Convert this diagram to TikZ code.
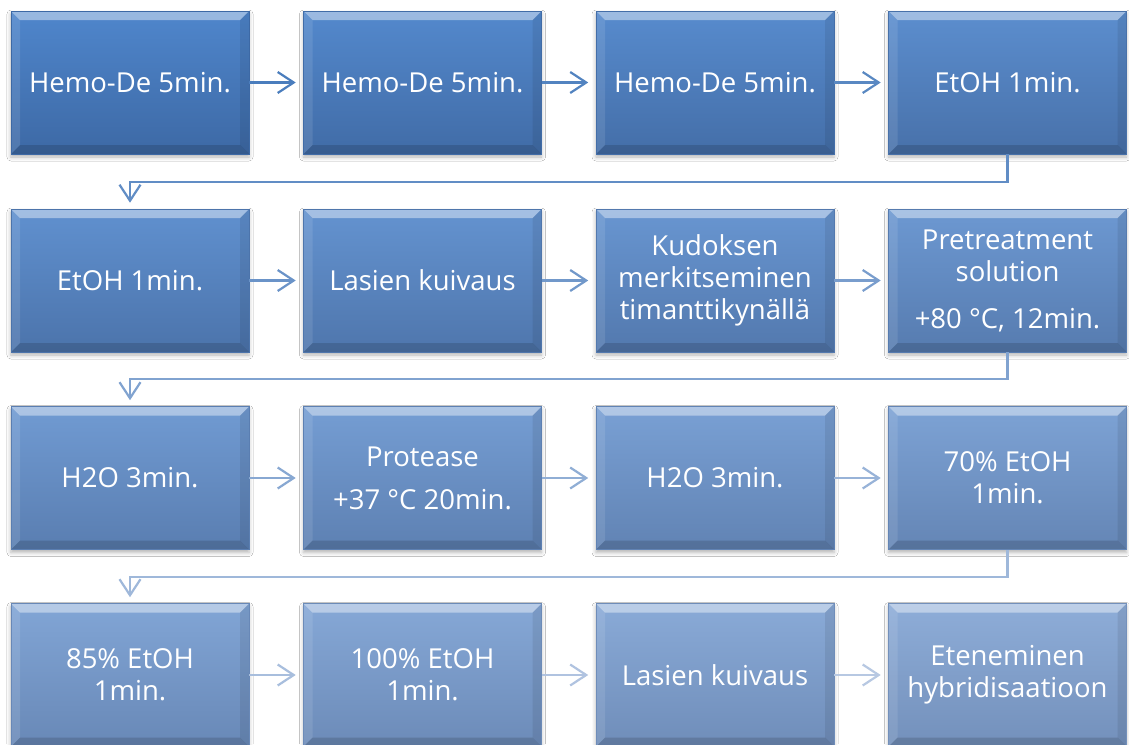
\documentclass[tikz,border=0pt]{standalone}
\usepackage{fontspec}
\setmainfont{Open Sans}
\usetikzlibrary{arrows.meta,shadows.blur,calc}
\definecolor{topA}{HTML}{4F86CC}
\definecolor{botA}{HTML}{3D69A5}
\definecolor{topB}{HTML}{8EADD8}
\definecolor{botB}{HTML}{7390BB}
\definecolor{connA}{HTML}{4A7DBD}
\definecolor{connB}{HTML}{BFCEE5}
\newcommand{\boxfont}{\fontsize{27.5}{32}\selectfont}
\tikzset{
  stepbox/.style={
    draw=botA!#1!botB, line width=0.6pt,
    minimum width=238pt, minimum height=143pt, inner sep=2pt,
    text=white, align=center, font=\boxfont,
    top color=topA!#1!topB, bottom color=botA!#1!botB,
    blur shadow={shadow xshift=0pt, shadow yshift=-3pt, shadow blur radius=4pt, shadow opacity=30},
    path picture={
      \fill[white, opacity=0.42]
        (path picture bounding box.north west) -- (path picture bounding box.north east)
        -- ([shift={(-9pt,-9pt)}]path picture bounding box.north east)
        -- ([shift={(9pt,-9pt)}]path picture bounding box.north west) -- cycle;
      \fill[white, opacity=0.10]
        (path picture bounding box.north west) -- ([shift={(9pt,-9pt)}]path picture bounding box.north west)
        -- ([shift={(9pt,9pt)}]path picture bounding box.south west)
        -- (path picture bounding box.south west) -- cycle;
      \fill[black, opacity=0.08]
        (path picture bounding box.north east) -- ([shift={(-9pt,-9pt)}]path picture bounding box.north east)
        -- ([shift={(-9pt,9pt)}]path picture bounding box.south east)
        -- (path picture bounding box.south east) -- cycle;
      \fill[black, opacity=0.14]
        (path picture bounding box.south west) -- (path picture bounding box.south east)
        -- ([shift={(-9pt,9pt)}]path picture bounding box.south east)
        -- ([shift={(9pt,9pt)}]path picture bounding box.south west) -- cycle;
    }},
  conn/.style={draw=connA!#1!connB, line width=2.2pt,
    -{Straight Barb[length=16pt,width=21pt]}},
  hconn/.style={conn=#1, shorten >=7.5pt},
  vconn/.style={conn=#1, shorten >=6pt, rounded corners=0pt},
}
\begin{document}
\begin{tikzpicture}[x=1pt,y=-1pt]
\useasboundingbox (0,0) rectangle (1129,744);
\fill[white] (0,0) rectangle (1129,744);
\begin{scope}
\clip (0,0) rectangle (1129,744);
% row 1
\node[stepbox=100] (b1)  at (130,82.5)    {Hemo-De 5min.};
\node[stepbox=93]  (b2)  at (422.5,82.5)  {Hemo-De 5min.};
\node[stepbox=87]  (b3)  at (715,82.5)    {Hemo-De 5min.};
\node[stepbox=80]  (b4)  at (1007.5,82.5) {EtOH 1min.};
% row 2
\node[stepbox=73]  (b5)  at (130,280.5)    {EtOH 1min.};
\node[stepbox=67]  (b6)  at (422.5,280.5)  {Lasien kuivaus};
\node[stepbox=60]  (b7)  at (715,280.5)    {Kudoksen\\merkitseminen\\timanttikynällä};
\node[stepbox=53]  (b8)  at (1007.5,280.5) {Pretreatment\\solution\\[15pt]+80 °C, 12min.};
% row 3
\node[stepbox=47]  (b9)  at (130,478)    {H2O 3min.};
\node[stepbox=40]  (b10) at (422.5,478)  {Protease\\[11pt]+37 °C 20min.};
\node[stepbox=33]  (b11) at (715,478)    {H2O 3min.};
\node[stepbox=27]  (b12) at (1007.5,478) {70\% EtOH\\1min.};
% row 4
\node[stepbox=20]  (b13) at (130,675)    {85\% EtOH\\1min.};
\node[stepbox=13]  (b14) at (422.5,675)  {100\% EtOH\\1min.};
\node[stepbox=7]   (b15) at (715,675)    {Lasien kuivaus};
\node[stepbox=0]   (b16) at (1007.5,675) {Eteneminen\\hybridisaatioon};
% connectors
\draw[hconn=100] (b1.east) -- (b2.west);
\draw[hconn=93]  (b2.east) -- (b3.west);
\draw[hconn=87]  (b3.east) -- (b4.west);
\draw[vconn=80]  (b4.south) -- ++(0,28) -| (b5.north);
\draw[hconn=73]  (b5.east) -- (b6.west);
\draw[hconn=67]  (b6.east) -- (b7.west);
\draw[hconn=60]  (b7.east) -- (b8.west);
\draw[vconn=53]  (b8.south) -- ++(0,27) -| (b9.north);
\draw[hconn=47]  (b9.east) -- (b10.west);
\draw[hconn=40]  (b10.east) -- (b11.west);
\draw[hconn=33]  (b11.east) -- (b12.west);
\draw[vconn=27]  (b12.south) -- ++(0,27.5) -| (b13.north);
\draw[hconn=20]  (b13.east) -- (b14.west);
\draw[hconn=13]  (b14.east) -- (b15.west);
\draw[hconn=7]   (b15.east) -- (b16.west);
\end{scope}
\end{tikzpicture}
\end{document}
